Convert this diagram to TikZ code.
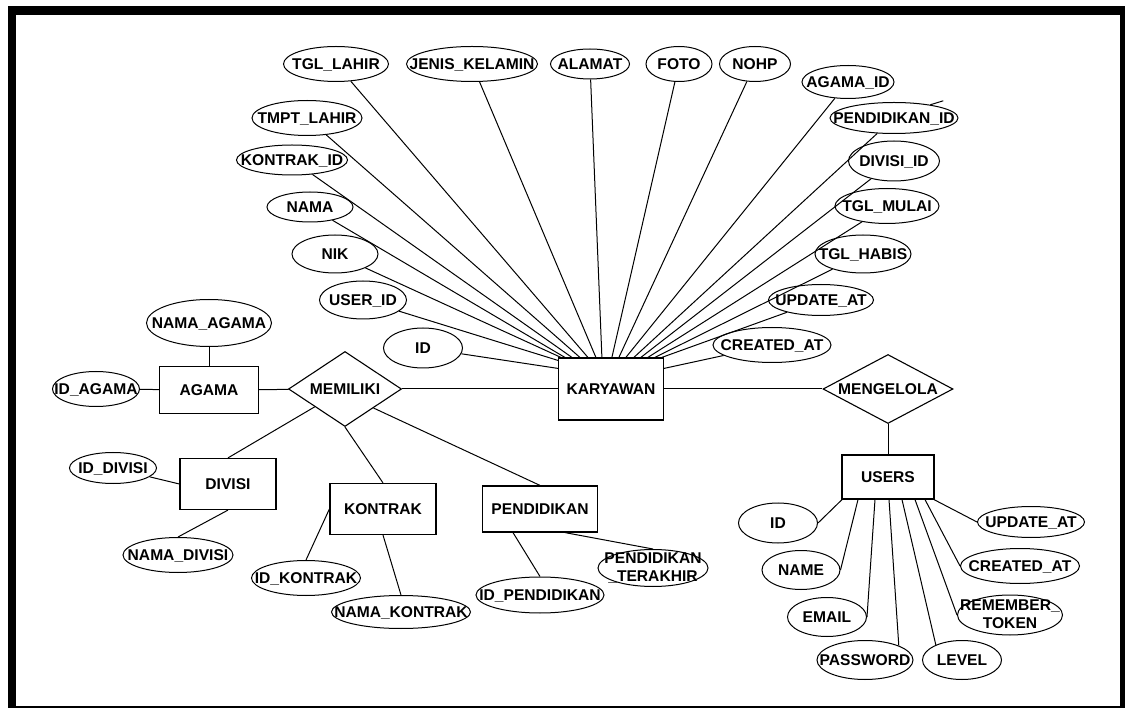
\documentclass[tikz,border=0pt]{standalone}
\usepackage{fontspec}
\setmainfont{Liberation Sans}
\usetikzlibrary{shapes.geometric,calc}
\newcommand{\mkz}[1]{\makebox[0pt]{#1}}
\newcommand{\twol}[2]{\makebox[0pt]{\raisebox{1pt}[0pt][0pt]{\begin{tabular}[c]{@{}c@{}}#1\\[-1pt]#2\end{tabular}}}}
\begin{document}
\begin{tikzpicture}[x=1pt,y=-1pt,
  every node/.style={font=\bfseries\fontsize{15.6}{18.5}\selectfont, inner sep=0pt, text height=11.2pt, text depth=0pt},
  sz/.style 2 args={minimum width=#1pt, minimum height=#2pt},
  attr/.style={draw, ellipse, line width=1pt},
  ent/.style={draw, rectangle, line width=1.2pt},
  rel/.style={draw, diamond, line width=1.1pt},
  conn/.style={line width=1pt}]
\useasboundingbox (0,0) rectangle (1125,708);
\fill[white] (0,0) rectangle (1125,708);
\fill[black] (8,6) rectangle (1125,708);
\fill[white] (16,15) rectangle (1120,706);

% entities and relationships
\node[ent, sz={105}{62}] (karyawan) at (611,389) {\mkz{KARYAWAN}};
\node[ent, sz={99}{47}] (agama) at (209,390) {\mkz{AGAMA}};
\node[ent, sz={96}{51}] (divisi) at (228,484) {\mkz{DIVISI}};
\node[ent, sz={106}{51}] (kontrak) at (383,509) {\mkz{KONTRAK}};
\node[ent, sz={115}{46}] (pendidikan) at (540,509) {\mkz{PENDIDIKAN}};
\node[ent, sz={92}{44}] (users) at (888,477) {\mkz{USERS}};
\node[rel, sz={113}{75}] (memiliki) at (345,389) {\mkz{MEMILIKI}};
\node[rel, sz={130}{69}] (mengelola) at (888,389) {\mkz{MENGELOLA}};

% karyawan attributes
\node[attr, sz={79}{40}] (k_id) at (423,348) {\mkz{ID}};
\node[attr, sz={87}{38}] (k_userid) at (363,300) {\mkz{USER\_ID}};
\node[attr, sz={86}{38}] (k_nik) at (335,254) {\mkz{NIK}};
\node[attr, sz={86}{30}] (k_nama) at (310,207) {\mkz{NAMA}};
\node[attr, sz={111}{30}] (k_kontrakid) at (292,160) {\mkz{KONTRAK\_ID}};
\node[attr, sz={110}{35}] (k_tmpt) at (307,118) {\mkz{TMPT\_LAHIR}};
\node[attr, sz={105}{35}] (k_tgllahir) at (336,64) {\mkz{TGL\_LAHIR}};
\node[attr, sz={131}{35}] (k_jenis) at (472,64) {\mkz{JENIS\_KELAMIN}};
\node[attr, sz={79}{30}] (k_alamat) at (590,64) {\mkz{ALAMAT}};
\node[attr, sz={66}{35}] (k_foto) at (679,64) {\mkz{FOTO}};
\node[attr, sz={71}{35}] (k_nohp) at (755,64) {\mkz{NOHP}};
\node[attr, sz={92}{33}] (k_agamaid) at (848,82) {\mkz{AGAMA\_ID}};
\node[attr, sz={128}{31}] (k_pendid) at (894,118) {\mkz{PENDIDIKAN\_ID}};
\node[attr, sz={91}{40}] (k_divisiid) at (894,161) {\mkz{DIVISI\_ID}};
\node[attr, sz={104}{35}] (k_tglmulai) at (887,206) {\mkz{TGL\_MULAI}};
\node[attr, sz={96}{38}] (k_tglhabis) at (863,254) {\mkz{TGL\_HABIS}};
\node[attr, sz={105}{31}] (k_update) at (821,300) {\mkz{UPDATE\_AT}};
\node[attr, sz={118}{35}] (k_created) at (772,345) {\mkz{CREATED\_AT}};

% other attributes
\node[attr, sz={125}{47}] (nama_agama) at (209,323) {\mkz{NAMA\_AGAMA}};
\node[attr, sz={87}{35}] (id_agama) at (96,389) {\mkz{ID\_AGAMA}};
\node[attr, sz={87}{31}] (id_divisi) at (113,468) {\mkz{ID\_DIVISI}};
\node[attr, sz={110}{35}] (nama_divisi) at (178,555) {\mkz{NAMA\_DIVISI}};
\node[attr, sz={109}{35}] (id_kontrak) at (306,578) {\mkz{ID\_KONTRAK}};
\node[attr, sz={139}{33}] (nama_kontrak) at (401,612) {\mkz{NAMA\_KONTRAK}};
\node[attr, sz={128}{36}] (id_pend) at (540,595) {\mkz{ID\_PENDIDIKAN}};
\node[attr, sz={110}{37}] (pend_terakhir) at (653,568) {\twol{PENDIDIKAN}{\_TERAKHIR}};

% users attributes
\node[attr, sz={79}{40}] (u_id) at (778,523) {\mkz{ID}};
\node[attr, sz={78}{39}] (u_name) at (801,570) {\mkz{NAME}};
\node[attr, sz={79}{39}] (u_email) at (827,617) {\mkz{EMAIL}};
\node[attr, sz={96}{39}] (u_password) at (865,660) {\mkz{PASSWORD}};
\node[attr, sz={79}{39}] (u_level) at (962,660) {\mkz{LEVEL}};
\node[attr, sz={105}{40}] (u_remember) at (1010,615) {\twol{REMEMBER\_}{TOKEN}};
\node[attr, sz={119}{35}] (u_created) at (1020,566) {\mkz{CREATED\_AT}};
\node[attr, sz={107}{31}] (u_update) at (1031,522) {\mkz{UPDATE\_AT}};

% karyawan fan
\draw[conn] (k_id) -- ([yshift=-11pt]karyawan.north west);
\draw[conn] (k_userid) -- ([yshift=-3pt]karyawan.north west);
\draw[conn] (k_nik) -- ([xshift=3pt]karyawan.north west);
\draw[conn] (k_nama) -- ([xshift=7pt]karyawan.north west);
\draw[conn] (k_kontrakid) -- ([xshift=14pt]karyawan.north west);
\draw[conn] (k_tmpt) -- ([xshift=22pt]karyawan.north west);
\draw[conn] (k_tgllahir) -- ([xshift=30pt]karyawan.north west);
\draw[conn] (k_jenis) -- ([xshift=38pt]karyawan.north west);
\draw[conn] (k_alamat) -- ([xshift=44pt]karyawan.north west);
\draw[conn] (k_foto) -- ([xshift=54pt]karyawan.north west);
\draw[conn] (k_nohp) -- ([xshift=61pt]karyawan.north west);
\draw[conn] (k_agamaid) -- ([xshift=68pt]karyawan.north west);
\draw[conn] (k_pendid) -- ([xshift=76pt]karyawan.north west);
\draw[conn] (k_divisiid) -- ([xshift=83pt]karyawan.north west);
\draw[conn] (k_tglmulai) -- ([xshift=90pt]karyawan.north west);
\draw[conn] (k_tglhabis) -- ([xshift=97pt]karyawan.north west);
\draw[conn] (k_update) -- ([xshift=104pt]karyawan.north west);
\draw[conn] (k_created) -- ([yshift=-11pt]karyawan.north east);
\draw[conn] (k_pendid.20) -- ++(13,-4);

% main relations
\draw[conn] (id_agama) -- (agama);
\draw[conn] (nama_agama) -- (agama);
\draw[conn] (agama) -- (memiliki);
\draw[conn] (memiliki) -- (karyawan);
\draw[conn] (karyawan) -- (mengelola);
\draw[conn] (mengelola) -- (users);
\draw[conn] (memiliki) -- (divisi.north);
\draw[conn] (memiliki.south) -- (kontrak.north);
\draw[conn] ($(memiliki.south)!0.5!(memiliki.east)$) -- (pendidikan.north);

% entity attributes
\draw[conn] (id_divisi) -- (divisi.west);
\draw[conn] (divisi.south) -- (nama_divisi.north);
\draw[conn] (kontrak.west) -- (id_kontrak.north);
\draw[conn] (kontrak.south) -- (nama_kontrak.north);
\draw[conn] ([xshift=-27pt]pendidikan.south) -- (id_pend.north);
\draw[conn] ([xshift=25pt]pendidikan.south) -- (pend_terakhir.north);

% users fan
\draw[conn] ([xshift=-46pt]users.south) -- (u_id.east);
\draw[conn] ([xshift=-30pt]users.south) -- (u_name.east);
\draw[conn] ([xshift=-13pt]users.south) -- (u_email.east);
\draw[conn] ([xshift=1pt]users.south) -- (u_password.23);
\draw[conn] ([xshift=14pt]users.south) -- (u_level.150);
\draw[conn] ([xshift=27pt]users.south) -- (u_remember.west);
\draw[conn] ([xshift=37pt]users.south) -- (u_created.west);
\draw[conn] ([xshift=46pt]users.south) -- (u_update.west);
\end{tikzpicture}
\end{document}
